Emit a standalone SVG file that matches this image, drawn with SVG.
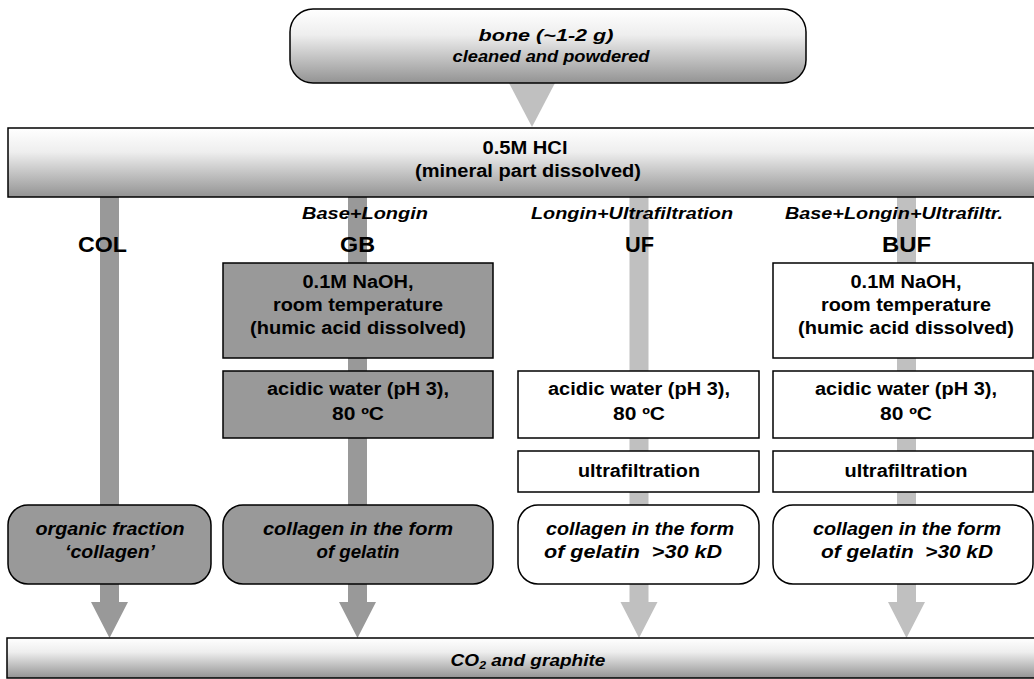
<svg xmlns="http://www.w3.org/2000/svg" width="1034" height="679" viewBox="0 0 1034 679">
  <defs>
    <linearGradient id="gv" x1="0" y1="0" x2="0" y2="1">
      <stop offset="0" stop-color="#ffffff"/>
      <stop offset="0.35" stop-color="#eeeeee"/>
      <stop offset="1" stop-color="#939393"/>
    </linearGradient>
    <style>
      .box { stroke: #000; stroke-width: 1.5; }
      .dark { fill: #999999; }
      .light { fill: #ffffff; }
      .grad { fill: url(#gv); }
      .bd { fill: #999999; }
      .bl { fill: #c0c0c0; }
      text { font-family: "Liberation Sans", Arial, sans-serif; font-weight: bold; fill: #000; text-anchor: middle; }
      .it { font-style: italic; }
      .s18 { font-size: 18px; }
      .s17 { font-size: 17px; }
      .s22 { font-size: 22px; }
    </style>
  </defs>

  <g id="connectors">
    <polygon class="bl" points="509,83 555,83 532,127"/>
    <rect class="bd" x="100" y="197" width="19" height="310"/>
    <rect class="bd" x="348" y="197" width="19" height="310"/>
    <rect class="bl" x="629.5" y="197" width="19" height="310"/>
    <rect class="bl" x="897" y="197" width="19" height="310"/>
    <polygon class="bd" points="100,584 119,584 119,602 128,602 109.5,638 91,602 100,602"/>
    <polygon class="bd" points="348,584 367,584 367,602 376,602 357.5,638 339,602 348,602"/>
    <polygon class="bl" points="629.5,584 648.5,584 648.5,602 657.5,602 639,638 620.5,602 629.5,602"/>
    <polygon class="bl" points="897,584 916,584 916,602 925,602 906.5,638 888,602 897,602"/>
  </g>

  <g id="bone">
    <rect class="box grad" x="290" y="9" width="516" height="74" rx="23"/>
    <text class="it s17" x="546" y="41" textLength="135" lengthAdjust="spacingAndGlyphs">bone (~1-2 g)</text>
    <text class="it s17" x="551" y="62" textLength="197" lengthAdjust="spacingAndGlyphs">cleaned and powdered</text>
  </g>

  <g id="hcl">
    <rect class="box grad" x="8" y="128" width="1032" height="69"/>
    <text class="s18" x="525" y="154" textLength="85" lengthAdjust="spacingAndGlyphs">0.5M HCl</text>
    <text class="s18" x="528" y="177" textLength="226" lengthAdjust="spacingAndGlyphs">(mineral part dissolved)</text>
  </g>

  <g id="labels">
    <text class="s22" x="102.5" y="252" textLength="49" lengthAdjust="spacingAndGlyphs">COL</text>
    <text class="it s17" x="365" y="219" textLength="126" lengthAdjust="spacingAndGlyphs">Base+Longin</text>
    <text class="s22" x="357.5" y="252" textLength="35" lengthAdjust="spacingAndGlyphs">GB</text>
    <text class="it s17" x="632" y="219" textLength="202" lengthAdjust="spacingAndGlyphs">Longin+Ultrafiltration</text>
    <text class="s22" x="639.5" y="252" textLength="29" lengthAdjust="spacingAndGlyphs">UF</text>
    <text class="it s17" x="894" y="219" textLength="218" lengthAdjust="spacingAndGlyphs">Base+Longin+Ultrafiltr.</text>
    <text class="s22" x="906.5" y="252" textLength="49" lengthAdjust="spacingAndGlyphs">BUF</text>
  </g>

  <g id="gb-naoh">
    <rect class="box dark" x="223" y="263" width="270" height="95"/>
    <text class="s18" x="358" y="288" textLength="111" lengthAdjust="spacingAndGlyphs">0.1M NaOH,</text>
    <text class="s18" x="358" y="311" textLength="170" lengthAdjust="spacingAndGlyphs">room temperature</text>
    <text class="s18" x="358" y="334" textLength="216" lengthAdjust="spacingAndGlyphs">(humic acid dissolved)</text>
  </g>
  <g id="gb-acid">
    <rect class="box dark" x="223" y="371" width="270" height="67"/>
    <text class="s18" x="358" y="395" textLength="182" lengthAdjust="spacingAndGlyphs">acidic water (pH 3),</text>
    <text class="s18" x="358" y="420" textLength="52" lengthAdjust="spacingAndGlyphs">80 ºC</text>
  </g>

  <g id="uf-acid">
    <rect class="box light" x="518" y="371" width="241" height="67"/>
    <text class="s18" x="639" y="395" textLength="182" lengthAdjust="spacingAndGlyphs">acidic water (pH 3),</text>
    <text class="s18" x="639" y="420" textLength="52" lengthAdjust="spacingAndGlyphs">80 ºC</text>
  </g>
  <g id="uf-ultra">
    <rect class="box light" x="518" y="451" width="241" height="41"/>
    <text class="s18" x="639" y="477" textLength="122" lengthAdjust="spacingAndGlyphs">ultrafiltration</text>
  </g>

  <g id="buf-naoh">
    <rect class="box light" x="773" y="263" width="260" height="95"/>
    <text class="s18" x="906" y="288" textLength="111" lengthAdjust="spacingAndGlyphs">0.1M NaOH,</text>
    <text class="s18" x="906" y="311" textLength="170" lengthAdjust="spacingAndGlyphs">room temperature</text>
    <text class="s18" x="906" y="334" textLength="216" lengthAdjust="spacingAndGlyphs">(humic acid dissolved)</text>
  </g>
  <g id="buf-acid">
    <rect class="box light" x="773" y="371" width="260" height="67"/>
    <text class="s18" x="906" y="395" textLength="182" lengthAdjust="spacingAndGlyphs">acidic water (pH 3),</text>
    <text class="s18" x="906" y="420" textLength="52" lengthAdjust="spacingAndGlyphs">80 ºC</text>
  </g>
  <g id="buf-ultra">
    <rect class="box light" x="773" y="451" width="260" height="41"/>
    <text class="s18" x="906" y="477" textLength="123" lengthAdjust="spacingAndGlyphs">ultrafiltration</text>
  </g>

  <g id="col-result">
    <rect class="box dark" x="8" y="505" width="203" height="79" rx="20"/>
    <text class="it s18" x="110" y="535" textLength="149" lengthAdjust="spacingAndGlyphs">organic fraction</text>
    <text class="it s18" x="110" y="558" textLength="90" lengthAdjust="spacingAndGlyphs">‘collagen’</text>
  </g>
  <g id="gb-result">
    <rect class="box dark" x="223" y="505" width="270" height="79" rx="20"/>
    <text class="it s18" x="358" y="535" textLength="190" lengthAdjust="spacingAndGlyphs">collagen in the form</text>
    <text class="it s18" x="358" y="558" textLength="83" lengthAdjust="spacingAndGlyphs">of gelatin</text>
  </g>
  <g id="uf-result">
    <rect class="box light" x="518" y="505" width="241" height="79" rx="20"/>
    <text class="it s18" x="640" y="535" textLength="188" lengthAdjust="spacingAndGlyphs">collagen in the form</text>
    <text class="it s18" x="633" y="558" textLength="178" lengthAdjust="spacingAndGlyphs" xml:space="preserve">of gelatin  &gt;30 kD</text>
  </g>
  <g id="buf-result">
    <rect class="box light" x="773" y="505" width="260" height="79" rx="20"/>
    <text class="it s18" x="907" y="535" textLength="188" lengthAdjust="spacingAndGlyphs">collagen in the form</text>
    <text class="it s18" x="907" y="558" textLength="172" lengthAdjust="spacingAndGlyphs" xml:space="preserve">of gelatin  &gt;30 kD</text>
  </g>

  <g id="co2">
    <rect class="box grad" x="7" y="638" width="1033" height="40"/>
    <text class="it" font-size="17" transform="translate(528,666) scale(1.12,1)">CO<tspan font-size="11" dy="3">2</tspan><tspan dy="-3"> and graphite</tspan></text>
  </g>
</svg>
